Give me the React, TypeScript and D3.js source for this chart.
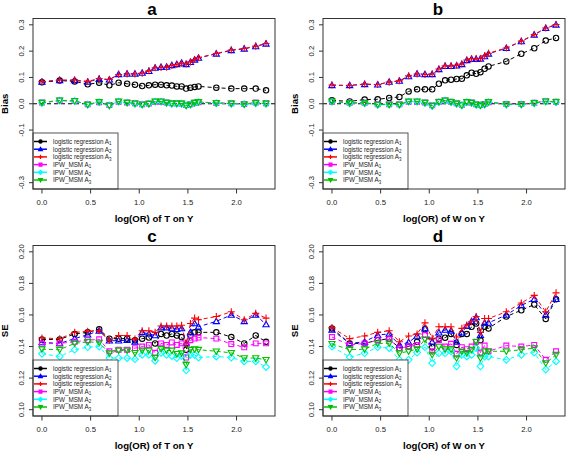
import React from "react";
import * as d3 from "d3";

// ---------- data ----------
const xLogOR = [0, 0.182, 0.336, 0.47, 0.588, 0.693, 0.788, 0.875, 0.956, 1.03, 1.099, 1.163, 1.224, 1.281, 1.335, 1.386, 1.435, 1.482, 1.526, 1.569, 1.609, 1.792, 1.946, 2.079, 2.197, 2.303];

const seriesNames = ["logistic regression", "logistic regression", "logistic regression", "IPW_MSM", "IPW_MSM", "IPW_MSM"];
const seriesSubs = ["1", "2", "3", "1", "2", "3"];

// Panel a: Bias, log(OR) of T on Y
const biasT_lrA1 = [0.082, 0.088, 0.085, 0.074, 0.08, 0.07, 0.08, 0.076, 0.0725, 0.0675, 0.07, 0.0725, 0.0725, 0.07, 0.069, 0.066, 0.066, 0.0575, 0.061, 0.064, 0.066, 0.061, 0.0575, 0.0575, 0.0575, 0.051];
const biasT_lrA2 = [0.083, 0.089, 0.089, 0.083, 0.094, 0.0915, 0.112, 0.114, 0.114, 0.117, 0.124, 0.136, 0.1395, 0.14, 0.146, 0.15, 0.155, 0.15, 0.158, 0.167, 0.174, 0.19, 0.203, 0.209, 0.218, 0.228];
const biasT_lrA3 = [0.084, 0.09, 0.09, 0.085, 0.096, 0.092, 0.111, 0.113, 0.113, 0.116, 0.125, 0.137, 0.138, 0.139, 0.145, 0.149, 0.154, 0.151, 0.159, 0.168, 0.175, 0.191, 0.204, 0.21, 0.219, 0.229];
const biasT_ipwA1 = [0.005, 0.012, 0.01, -0.002, 0.006, -0.005, 0.008, 0.005, 0.002, -0.002, 0.001, 0.008, 0.008, 0.005, 0.002, 0.002, 0.001, -0.005, -0.002, 0.004, 0.006, 0.003, 0.002, -0.001, 0.005, 0.002];
const biasT_ipwA2 = [0.003, 0.012, 0.01, -0.003, 0.006, -0.006, 0.008, 0.004, 0.0, -0.003, 0.0, 0.008, 0.008, 0.003, 0.0, 0.0, 0.0, -0.006, -0.003, 0.003, 0.006, 0.002, 0.0, -0.002, 0.002, 0.0];
const biasT_ipwA3 = [0.004, 0.013, 0.011, -0.003, 0.007, -0.007, 0.009, 0.004, 0.001, -0.003, 0.0, 0.009, 0.009, 0.004, 0.001, 0.001, 0.001, -0.007, -0.003, 0.004, 0.007, 0.003, 0.001, -0.002, 0.003, 0.001];

// Panel b: Bias, log(OR) of W on Y
const biasW_lrA1 = [0.013, 0.009, 0.016, 0.017, 0.022, 0.026, 0.047, 0.055, 0.055, 0.055, 0.076, 0.089, 0.0915, 0.094, 0.095, 0.108, 0.118, 0.114, 0.12, 0.133, 0.142, 0.161, 0.19, 0.211, 0.24, 0.25];
const biasW_lrA2 = [0.07, 0.07, 0.074, 0.0725, 0.083, 0.0865, 0.104, 0.114, 0.112, 0.112, 0.131, 0.143, 0.143, 0.1445, 0.15, 0.165, 0.17, 0.17, 0.171, 0.18, 0.19, 0.211, 0.237, 0.262, 0.287, 0.3];
const biasW_lrA3 = [0.071, 0.069, 0.075, 0.073, 0.082, 0.087, 0.106, 0.113, 0.111, 0.113, 0.132, 0.144, 0.144, 0.146, 0.151, 0.166, 0.171, 0.171, 0.172, 0.182, 0.192, 0.212, 0.238, 0.263, 0.288, 0.301];
const biasW_ipwA1 = [0.008, 0.004, 0.004, -0.002, -0.002, -0.002, 0.008, 0.008, 0.005, -0.006, 0.008, 0.012, 0.008, 0.002, -0.004, 0.006, 0.005, -0.002, -0.005, -0.001, 0.006, -0.001, -0.001, 0.004, 0.01, 0.008];
const biasW_ipwA2 = [0.008, 0.002, 0.002, -0.004, -0.003, -0.004, 0.008, 0.008, 0.003, -0.008, 0.006, 0.012, 0.006, 0.0, -0.006, 0.006, 0.003, -0.004, -0.006, -0.003, 0.006, -0.003, -0.003, 0.002, 0.008, 0.006];
const biasW_ipwA3 = [0.009, 0.003, 0.003, -0.003, -0.003, -0.003, 0.009, 0.009, 0.004, -0.008, 0.007, 0.013, 0.007, 0.001, -0.006, 0.007, 0.004, -0.003, -0.006, -0.002, 0.007, -0.002, -0.002, 0.003, 0.009, 0.007];

// Panel c: SE, log(OR) of T on Y
const seT_lrA1 = [0.1445, 0.1445, 0.148, 0.149, 0.151, 0.145, 0.145, 0.145, 0.144, 0.145, 0.1457, 0.142, 0.148, 0.147, 0.148, 0.147, 0.146, 0.138, 0.147, 0.149, 0.149, 0.149, 0.146, 0.142, 0.147, 0.143];
const seT_lrA2 = [0.1426, 0.142, 0.145, 0.1475, 0.15, 0.1437, 0.1437, 0.144, 0.143, 0.149, 0.148, 0.147, 0.152, 0.152, 0.1515, 0.151, 0.1515, 0.142, 0.149, 0.1546, 0.1525, 0.156, 0.16, 0.156, 0.16, 0.154];
const seT_lrA3 = [0.1454, 0.145, 0.149, 0.1496, 0.15, 0.144, 0.147, 0.147, 0.1447, 0.15, 0.15, 0.149, 0.153, 0.153, 0.153, 0.153, 0.1535, 0.1416, 0.1546, 0.158, 0.157, 0.159, 0.162, 0.157, 0.161, 0.158];
const seT_ipwA1 = [0.1417, 0.142, 0.143, 0.144, 0.1446, 0.137, 0.138, 0.138, 0.139, 0.14, 0.141, 0.136, 0.142, 0.141, 0.1426, 0.141, 0.142, 0.133, 0.144, 0.145, 0.1457, 0.145, 0.1416, 0.1395, 0.142, 0.142];
const seT_ipwA2 = [0.1354, 0.1337, 0.138, 0.1396, 0.14, 0.1327, 0.1327, 0.1327, 0.132, 0.1348, 0.1348, 0.131, 0.136, 0.1348, 0.134, 0.1327, 0.134, 0.125, 0.1348, 0.1348, 0.133, 0.1337, 0.133, 0.1306, 0.1306, 0.127];
const seT_ipwA3 = [0.1383, 0.138, 0.142, 0.143, 0.1425, 0.1358, 0.1375, 0.1375, 0.136, 0.1375, 0.1375, 0.133, 0.1385, 0.1375, 0.1375, 0.1354, 0.1358, 0.1285, 0.138, 0.1383, 0.138, 0.137, 0.136, 0.1327, 0.1327, 0.1316];

// Panel d: SE, log(OR) of W on Y
const seW_lrA1 = [0.1515, 0.142, 0.142, 0.144, 0.145, 0.139, 0.14, 0.143, 0.151, 0.1396, 0.145, 0.1456, 0.148, 0.141, 0.148, 0.148, 0.1525, 0.1546, 0.144, 0.1525, 0.1515, 0.159, 0.163, 0.1666, 0.1575, 0.17];
const seW_lrA2 = [0.1505, 0.142, 0.143, 0.1473, 0.148, 0.141, 0.1427, 0.1467, 0.1515, 0.143, 0.1488, 0.1505, 0.15, 0.143, 0.1488, 0.153, 0.156, 0.1584, 0.1473, 0.155, 0.155, 0.16, 0.166, 0.17, 0.16, 0.17];
const seW_lrA3 = [0.152, 0.145, 0.1467, 0.149, 0.15, 0.143, 0.1467, 0.148, 0.155, 0.1452, 0.1525, 0.1525, 0.1525, 0.146, 0.1515, 0.1536, 0.1557, 0.159, 0.149, 0.1578, 0.1578, 0.162, 0.1676, 0.1724, 0.162, 0.174];
const seW_ipwA1 = [0.146, 0.141, 0.142, 0.144, 0.1446, 0.139, 0.14, 0.141, 0.1473, 0.137, 0.144, 0.14, 0.1417, 0.1354, 0.1396, 0.1383, 0.14, 0.143, 0.1362, 0.1406, 0.137, 0.1406, 0.14, 0.141, 0.1316, 0.137];
const seW_ipwA2 = [0.14, 0.1333, 0.1358, 0.1396, 0.139, 0.1316, 0.1316, 0.1362, 0.1396, 0.1295, 0.1358, 0.1358, 0.137, 0.1275, 0.1348, 0.1337, 0.1348, 0.139, 0.1275, 0.1337, 0.1337, 0.1316, 0.1348, 0.1362, 0.1254, 0.1306];
const seW_ipwA3 = [0.1417, 0.138, 0.1383, 0.142, 0.142, 0.1358, 0.137, 0.1383, 0.1446, 0.1348, 0.14, 0.1383, 0.1383, 0.1327, 0.137, 0.136, 0.138, 0.143, 0.1327, 0.137, 0.137, 0.137, 0.138, 0.139, 0.1295, 0.1348];

const biasTicks = [-0.3, -0.1, 0.0, 0.1, 0.2, 0.3];
const seTicks = [0.1, 0.12, 0.14, 0.16, 0.18, 0.2];
const xTicks = [0, 0.5, 1.0, 1.5, 2.0];

// ---------- styles ----------
const COLORS = ["#000000", "#0000FF", "#FF0000", "#FF00FF", "#00FFFF", "#00C000"];
const SHAPES = ["circle", "triUp", "plus", "square", "diamond", "triDown"];
const FONT = "'Liberation Sans', Arial, Helvetica, sans-serif";

function symbolPath(shape: string, s: number): string {
  switch (shape) {
    case "circle":
      return `M${-s},0A${s},${s} 0 1,0 ${s},0A${s},${s} 0 1,0 ${-s},0Z`;
    case "triUp": {
      const h = s * 1.15;
      return `M0,${-h}L${h},${h * 0.75}L${-h},${h * 0.75}Z`;
    }
    case "triDown": {
      const h = s * 1.15;
      return `M0,${h}L${h},${-h * 0.75}L${-h},${-h * 0.75}Z`;
    }
    case "plus": {
      const h = s * 1.3;
      return `M${-h},0L${h},0M0,${-h}L0,${h}`;
    }
    case "square": {
      const h = s * 0.9;
      return `M${-h},${-h}L${h},${-h}L${h},${h}L${-h},${h}Z`;
    }
    case "diamond": {
      const h = s * 1.25;
      return `M0,${-h}L${h},0L0,${h}L${-h},0Z`;
    }
  }
  return "";
}

type PanelProps = {
  left: number; right: number; top: number; bottom: number;
  series: number[][];
  yDomain: [number, number];
  yTicks: number[];
  yFmt: (v: number) => string;
  title: string; titleX: number;
  xLabel: string; yLabel: string;
  zeroLine: boolean;
};

function Panel(p: PanelProps) {
  const xmax = xLogOR[xLogOR.length - 1];
  const pad = xmax * 0.04;
  const x = d3.scaleLinear().domain([-pad, xmax + pad]).range([p.left, p.right]);
  const yr = p.yDomain[1] - p.yDomain[0];
  const y = d3.scaleLinear().domain([p.yDomain[0] - yr * 0.04, p.yDomain[1] + yr * 0.04]).range([p.bottom, p.top]);
  const line = d3.line<number>().x((_, i) => x(xLogOR[i])).y((d) => y(d));
  const legW = 85, legH = 56;
  const legTop = p.bottom - legH;
  return (
    <g fontFamily={FONT}>
      <text x={p.titleX} y={p.top - 4} fontSize={17} fontWeight="bold" textAnchor="middle">{p.title}</text>
      {p.zeroLine && (
        <line x1={p.left} x2={p.right} y1={y(0)} y2={y(0)} stroke="#000" strokeWidth={1} strokeDasharray="4,3" />
      )}
      {p.series.map((s, k) => (
        <g key={k}>
          <path d={line(s) || ""} fill="none" stroke={COLORS[k]} strokeWidth={1} strokeDasharray="4,3" />
          {s.map((v, i) => (
            <path key={i} d={symbolPath(SHAPES[k], 2.7)} transform={`translate(${x(xLogOR[i])},${y(v)})`}
              fill="none" stroke={COLORS[k]} strokeWidth={1.1} />
          ))}
        </g>
      ))}
      {/* legend */}
      <rect x={p.left} y={legTop} width={legW} height={legH} fill="#fff" stroke="#555" strokeWidth={1} />
      {seriesNames.map((nm, k) => {
        const ry = legTop + 8.5 + k * 7.7;
        return (
          <g key={k}>
            <line x1={p.left + 1} x2={p.left + 14} y1={ry} y2={ry} stroke={COLORS[k]} strokeWidth={1.5} />
            <path d={symbolPath(SHAPES[k], 1.6)} transform={`translate(${p.left + 7.5},${ry})`}
              fill={SHAPES[k] === "plus" ? "none" : COLORS[k]} stroke={COLORS[k]} strokeWidth={1.2} />
            <text x={p.left + 20} y={ry + 2.3} fontSize={6.3} fill="#222">
              {nm}{"  "}A<tspan fontSize={4.5} dy={1.5}>{seriesSubs[k]}</tspan>
            </text>
          </g>
        );
      })}
      {/* frame */}
      <rect x={p.left} y={p.top} width={p.right - p.left} height={p.bottom - p.top} fill="none" stroke="#333" strokeWidth={1} />
      {/* x axis */}
      {xTicks.map((t) => (
        <g key={t}>
          <line x1={x(t)} x2={x(t)} y1={p.bottom} y2={p.bottom + 4.5} stroke="#333" />
          <text x={x(t)} y={p.bottom + 15.5} fontSize={7.7} textAnchor="middle" fill="#222">{t.toFixed(1)}</text>
        </g>
      ))}
      <text x={(p.left + p.right) / 2} y={p.bottom + 32.5} fontSize={9.6} fontWeight="bold" textAnchor="middle">{p.xLabel}</text>
      {/* y axis */}
      {p.yTicks.map((t) => (
        <g key={t}>
          <line x1={p.left - 4} x2={p.left} y1={y(t)} y2={y(t)} stroke="#333" />
          <text transform={`translate(${p.left - 9.5},${y(t)}) rotate(-90)`} fontSize={7.7} textAnchor="middle" fill="#222">{p.yFmt(t)}</text>
        </g>
      ))}
      <text transform={`translate(${p.left - 25},${(p.top + p.bottom) / 2}) rotate(-90)`} fontSize={9.6} fontWeight="bold" textAnchor="middle">{p.yLabel}</text>
    </g>
  );
}

export default function App() {
  const biasFmt = (v: number) => (v === 0 ? "0.0" : v.toFixed(1));
  const seFmt = (v: number) => v.toFixed(2);
  const top1 = 18.5, bot1 = 189, top2 = 245.5, bot2 = 416;
  const lA = 33, rA = 275, lB = 323, rB = 565;
  return (
    <svg width={566} height={452} style={{ position: "absolute", left: 0, top: 0, background: "#fff" }}>
      <rect width={566} height={452} fill="#fff" />
      <Panel left={lA} right={rA} top={top1} bottom={bot1}
        series={[biasT_lrA1, biasT_lrA2, biasT_lrA3, biasT_ipwA1, biasT_ipwA2, biasT_ipwA3]}
        yDomain={[-0.3, 0.3]} yTicks={biasTicks} yFmt={biasFmt}
        title="a" titleX={152} xLabel="log(OR) of T on Y" yLabel="Bias" zeroLine />
      <Panel left={lB} right={rB} top={top1} bottom={bot1}
        series={[biasW_lrA1, biasW_lrA2, biasW_lrA3, biasW_ipwA1, biasW_ipwA2, biasW_ipwA3]}
        yDomain={[-0.3, 0.3]} yTicks={biasTicks} yFmt={biasFmt}
        title="b" titleX={438} xLabel="log(OR) of W on Y" yLabel="Bias" zeroLine />
      <Panel left={lA} right={rA} top={top2} bottom={bot2}
        series={[seT_lrA1, seT_lrA2, seT_lrA3, seT_ipwA1, seT_ipwA2, seT_ipwA3]}
        yDomain={[0.1, 0.2]} yTicks={seTicks} yFmt={seFmt}
        title="c" titleX={152} xLabel="log(OR) of T on Y" yLabel="SE" zeroLine={false} />
      <Panel left={lB} right={rB} top={top2} bottom={bot2}
        series={[seW_lrA1, seW_lrA2, seW_lrA3, seW_ipwA1, seW_ipwA2, seW_ipwA3]}
        yDomain={[0.1, 0.2]} yTicks={seTicks} yFmt={seFmt}
        title="d" titleX={438} xLabel="log(OR) of W on Y" yLabel="SE" zeroLine={false} />
    </svg>
  );
}
